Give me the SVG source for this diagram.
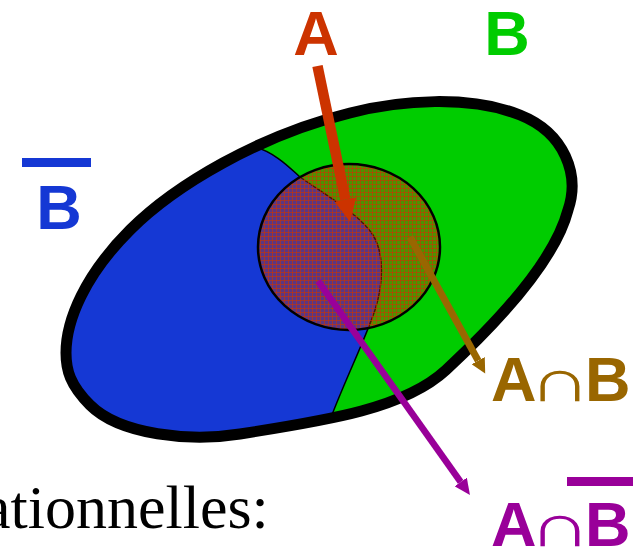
<svg xmlns="http://www.w3.org/2000/svg" width="635" height="550" viewBox="0 0 635 550">
<style>
.lbl{font-family:"Liberation Sans",Arial,sans-serif;font-weight:bold;font-size:63px}
.cap{font-family:"DejaVu Sans",sans-serif;font-weight:200;font-size:60px}
</style>
<defs>
<path id="outer" d="M 66,353 C 66,320 85,275 130,230 C 175,185 260,135 350,113 C 400,100 470,95 520,115 C 565,133 580,175 568,210 C 555,260 500,320 446,370 C 405,408 330,420 240,434 C 190,442 120,435 90,405 C 70,385 66,370 66,353 Z"/>
<clipPath id="clipOuter"><use href="#outer"/></clipPath>
<pattern id="hatch" width="4" height="4" patternUnits="userSpaceOnUse">
<rect width="4" height="4" fill="#cc3300" fill-opacity="0.38"/>
<path d="M0 0.5H4M0.5 0V4" stroke="#cc3300" stroke-width="1" stroke-opacity="0.6"/>
</pattern>
<marker id="mRed" markerUnits="userSpaceOnUse" markerWidth="24" markerHeight="22" refX="0" refY="11" orient="auto" viewBox="0 0 24 22"><path d="M0,0 L23,11 L0,22 Z" fill="#cc3300"/></marker>
<marker id="mBrown" markerUnits="userSpaceOnUse" markerWidth="15" markerHeight="15" refX="0" refY="7.5" orient="auto" viewBox="0 0 15 15"><path d="M0,0 L14.5,7.5 L0,15 Z" fill="#996600"/></marker>
<marker id="mPurple" markerUnits="userSpaceOnUse" markerWidth="17" markerHeight="15" refX="0" refY="7.5" orient="auto" viewBox="0 0 17 15"><path d="M0,0 L16,7.5 L0,15 Z" fill="#990099"/></marker>
</defs>

<g id="setB">
<use href="#outer" fill="#00cc00"/>
</g>
<g id="setBbar" clip-path="url(#clipOuter)">
<path d="M 252,146 C 275,152 290,168 300,177 C 330,198 360,215 373,235 C 385,255 383,285 375,310 C 365,340 345,380 330,420 L 330,470 L 0,470 L 0,90 L 252,90 Z" fill="#1538d4"/>
<path d="M 252,146 C 275,152 290,168 300,177 C 330,198 360,215 373,235 C 385,255 383,285 375,310 C 365,340 345,380 330,420" fill="none" stroke="#000" stroke-width="1.5"/>
</g>
<g id="setA">
<ellipse cx="349" cy="247" rx="91" ry="83" fill="url(#hatch)" stroke="#000" stroke-width="2.5"/>
</g>
<g id="universe">
<use href="#outer" fill="none" stroke="#000" stroke-width="11"/>
</g>

<g id="connectors" fill="none">
<line x1="317.5" y1="66" x2="345.4" y2="199.5" stroke="#cc3300" stroke-width="10.5" marker-end="url(#mRed)"/>
<line x1="410" y1="237" x2="478.2" y2="360.7" stroke="#996600" stroke-width="7" marker-end="url(#mBrown)"/>
<line x1="318" y1="281" x2="460.7" y2="482" stroke="#990099" stroke-width="6.5" marker-end="url(#mPurple)"/>
</g>

<g id="labelA"><text class="lbl" x="316" y="55" text-anchor="middle" fill="#cc3300" font-size="58">A</text></g>
<g id="labelB"><text class="lbl" x="507" y="55" text-anchor="middle" fill="#00cc00" font-size="56">B</text></g>
<g id="labelBbar">
<rect x="22" y="158" width="69" height="9" fill="#1538d4"/>
<text class="lbl" x="59" y="229" text-anchor="middle" fill="#1538d4">B</text>
</g>
<g id="labelAnB" fill="#996600">
<text class="lbl" x="491" y="401">A</text>
<text class="cap" transform="translate(560,401) scale(1.45,1)" text-anchor="middle">∩</text>
<text class="lbl" x="585" y="401">B</text>
</g>
<g id="labelAnBbar" fill="#990099">
<rect x="567" y="477" width="66" height="9"/>
<text class="lbl" x="491" y="546">A</text>
<text class="cap" transform="translate(560,546) scale(1.45,1)" text-anchor="middle">∩</text>
<text class="lbl" x="585" y="546">B</text>
</g>
<g id="caption">
<text x="-17" y="528" font-family="'Liberation Serif','Times New Roman',serif" font-size="62" fill="#000">ationnelles:</text>
</g>
</svg>
